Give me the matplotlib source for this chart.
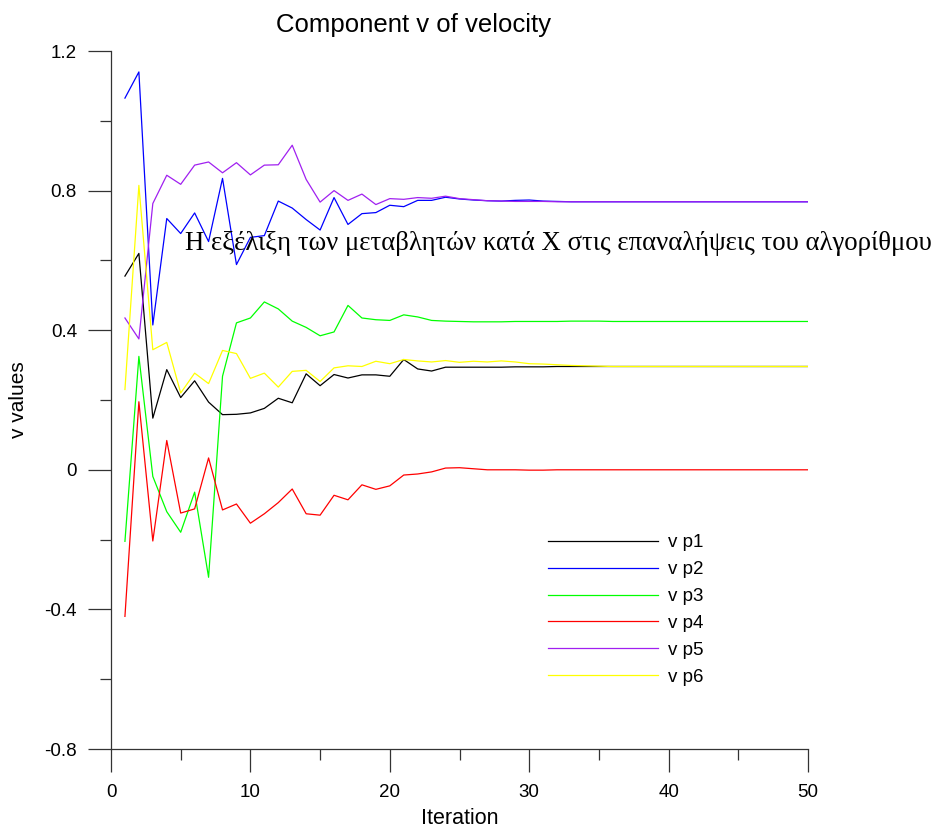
import matplotlib
matplotlib.use("Agg")
import matplotlib.pyplot as plt
from matplotlib.ticker import MultipleLocator
import numpy as np

iterations = list(range(1, 51))

v_p1 = [0.555, 0.62, 0.148, 0.287, 0.207, 0.255, 0.194, 0.158, 0.159, 0.163,
        0.176, 0.205, 0.192, 0.275, 0.241, 0.273, 0.263, 0.272, 0.272, 0.268,
        0.316, 0.289, 0.283, 0.294, 0.294, 0.294, 0.294, 0.294, 0.295, 0.295,
        0.295, 0.296, 0.296, 0.296, 0.296, 0.296, 0.296, 0.296, 0.296, 0.296,
        0.296, 0.296, 0.296, 0.296, 0.296, 0.296, 0.296, 0.296, 0.296, 0.296]
v_p2 = [1.065, 1.14, 0.415, 0.72, 0.677, 0.736, 0.654, 0.835, 0.588, 0.666,
        0.671, 0.77, 0.75, 0.717, 0.687, 0.78, 0.703, 0.734, 0.737, 0.758,
        0.754, 0.772, 0.772, 0.781, 0.776, 0.773, 0.771, 0.770, 0.772, 0.773,
        0.770, 0.769, 0.768, 0.768, 0.768, 0.768, 0.768, 0.768, 0.768, 0.768,
        0.768, 0.768, 0.768, 0.768, 0.768, 0.768, 0.768, 0.768, 0.768, 0.768]
v_p3 = [-0.205, 0.325, -0.019, -0.12, -0.179, -0.064, -0.308, 0.268, 0.421, 0.435,
        0.481, 0.461, 0.426, 0.408, 0.384, 0.395, 0.471, 0.435, 0.43, 0.428,
        0.444, 0.438, 0.428, 0.426, 0.425, 0.424, 0.424, 0.424, 0.425, 0.425,
        0.425, 0.425, 0.426, 0.426, 0.426, 0.425, 0.425, 0.425, 0.425, 0.425,
        0.425, 0.425, 0.425, 0.425, 0.425, 0.425, 0.425, 0.425, 0.425, 0.425]
v_p4 = [-0.42, 0.195, -0.204, 0.084, -0.124, -0.112, 0.034, -0.115, -0.098, -0.153,
        -0.126, -0.094, -0.055, -0.126, -0.13, -0.073, -0.086, -0.043, -0.056, -0.046,
        -0.015, -0.012, -0.006, 0.005, 0.006, 0.003, 0.0, 0.0, 0.0, -0.001,
        -0.001, 0.0, 0.0, 0.0, 0.0, 0.0, 0.0, 0.0, 0.0, 0.0,
        0.0, 0.0, 0.0, 0.0, 0.0, 0.0, 0.0, 0.0, 0.0, 0.0]
v_p5 = [0.435, 0.375, 0.763, 0.844, 0.818, 0.873, 0.882, 0.851, 0.88, 0.845,
        0.873, 0.874, 0.93, 0.832, 0.767, 0.80, 0.772, 0.79, 0.76, 0.777,
        0.775, 0.78, 0.778, 0.784, 0.777, 0.774, 0.771, 0.770, 0.769, 0.769,
        0.769, 0.768, 0.768, 0.768, 0.768, 0.768, 0.768, 0.768, 0.768, 0.768,
        0.768, 0.768, 0.768, 0.768, 0.768, 0.768, 0.768, 0.768, 0.768, 0.768]
v_p6 = [0.23, 0.815, 0.344, 0.365, 0.22, 0.277, 0.247, 0.342, 0.333, 0.262,
        0.277, 0.237, 0.282, 0.285, 0.253, 0.292, 0.298, 0.296, 0.311, 0.304,
        0.316, 0.312, 0.309, 0.313, 0.308, 0.311, 0.309, 0.312, 0.309, 0.304,
        0.303, 0.301, 0.299, 0.298, 0.297, 0.296, 0.296, 0.296, 0.296, 0.296,
        0.296, 0.296, 0.296, 0.296, 0.296, 0.296, 0.296, 0.296, 0.296, 0.296]

series_labels = ["v p1", "v p2", "v p3", "v p4", "v p5", "v p6"]
series_colors = ["#000000", "#0000ff", "#00ff00", "#ff0000", "#a020f0", "#ffff00"]

x_ticks = [0, 10, 20, 30, 40, 50]
x_ticklabels = ["0", "10", "20", "30", "40", "50"]
y_ticks = [-0.8, -0.4, 0, 0.4, 0.8, 1.2]
y_ticklabels = ["-0.8", "-0.4", "0", "0.4", "0.8", "1.2"]

title_text = "Component v of velocity"
x_label = "Iteration"
y_label = "v values"
note_text = "Η εξέλιξη των μεταβλητών κατά X στις επαναλήψεις του αλγορίθμου"

plt.rcParams['font.family'] = ['Liberation Sans', 'DejaVu Sans']

W, H = 938, 830
fig = plt.figure(figsize=(W / 100, H / 100), dpi=100)
ax = fig.add_axes([111 / W, 1 - 749 / H, (808 - 111) / W, (749 - 51) / H])

for vals, lab, col in zip([v_p1, v_p2, v_p3, v_p4, v_p5, v_p6], series_labels, series_colors):
    ax.plot(iterations, vals, color=col, lw=0.9, label=lab)

ax.set_xlim(0, 50)
ax.set_ylim(-0.8, 1.2)
ax.set_xticks(x_ticks)
ax.set_xticklabels(x_ticklabels)
ax.set_yticks(y_ticks)
ax.set_yticklabels(y_ticklabels)
ax.xaxis.set_minor_locator(MultipleLocator(5))
ax.yaxis.set_minor_locator(MultipleLocator(0.2))

for s in ["top", "right"]:
    ax.spines[s].set_visible(False)
for s in ["left", "bottom"]:
    ax.spines[s].set_color("#333333")
    ax.spines[s].set_linewidth(0.9)

ax.tick_params(which="major", direction="out", length=16.5, width=0.9, color="#333333",
               labelsize=13.5, labelcolor="black")
ax.tick_params(which="minor", direction="out", length=8, width=0.9, color="#333333")
ax.tick_params(axis="x", which="major", pad=9)
ax.tick_params(axis="y", which="major", pad=8)

ax.set_xlabel(x_label, fontsize=15.5)
ax.xaxis.set_label_coords(0.5, -(818 - 749) / 698)
ax.xaxis.label.set_va("center")
ax.set_ylabel(y_label, fontsize=15)
ax.yaxis.set_label_coords(-(111 - 18) / 697, (749 - 400) / 698)
ax.yaxis.label.set_va("center")

fig.text(413 / W, 1 - 25 / H, title_text, ha="center", va="center", fontsize=18.5)

ax.text(185 / W, 1 - 243 / H, note_text, transform=fig.transFigure, ha="left", va="center",
        fontsize=19.25, family=["Liberation Serif", "DejaVu Serif"], clip_on=False)

leg = ax.legend(loc="upper left", bbox_to_anchor=(548 / W, 1 - 534 / H),
                bbox_transform=fig.transFigure, frameon=False, fontsize=13.5,
                handlelength=5.87, handletextpad=0.53, labelspacing=0.525,
                borderpad=0, borderaxespad=0)

fig.savefig("out.png", dpi=100)
